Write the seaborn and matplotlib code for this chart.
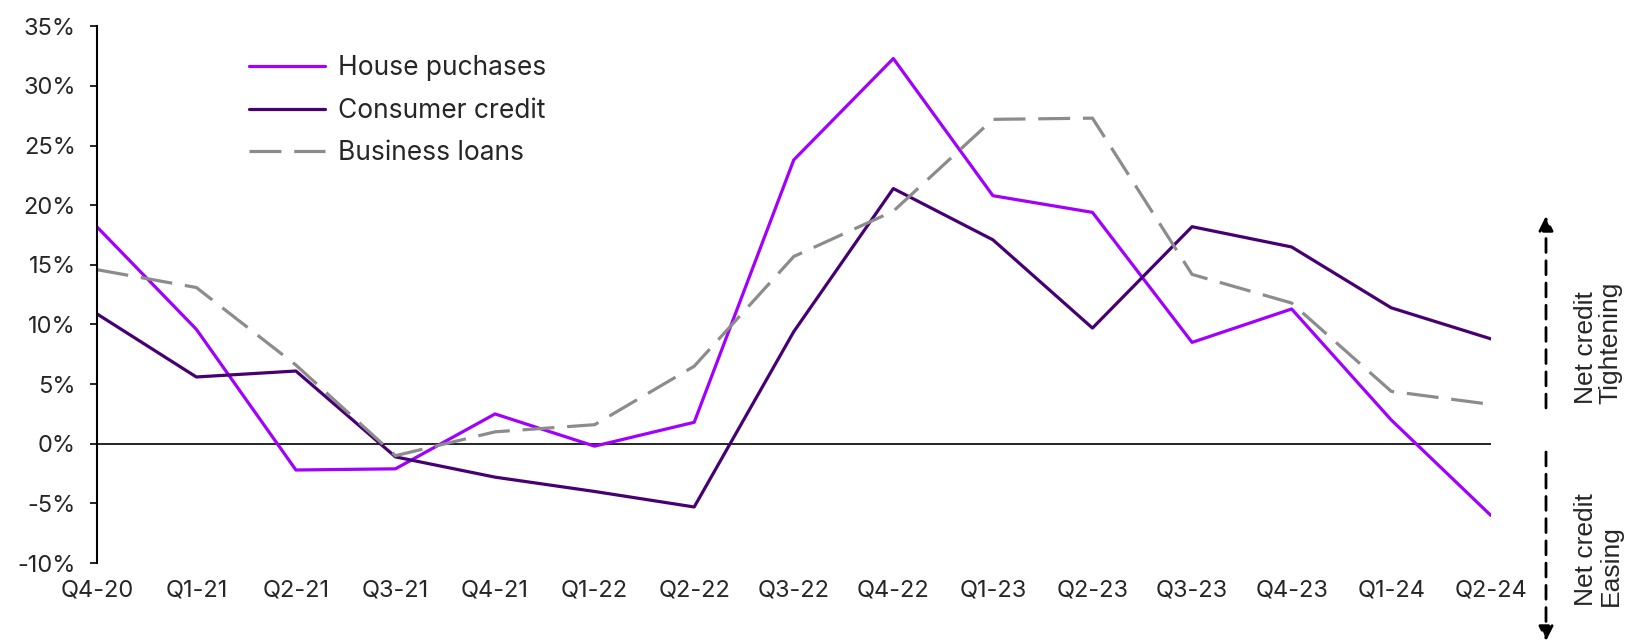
import matplotlib
matplotlib.use("Agg")
import matplotlib.pyplot as plt
from matplotlib.patches import FancyArrowPatch
import seaborn as sns
import pandas as pd
from matplotlib.ticker import FuncFormatter

quarters = ["Q4-20", "Q1-21", "Q2-21", "Q3-21", "Q4-21", "Q1-22", "Q2-22", "Q3-22",
            "Q4-22", "Q1-23", "Q2-23", "Q3-23", "Q4-23", "Q1-24", "Q2-24"]
house_purchases = [18.2, 9.6, -2.2, -2.1, 2.5, -0.2, 1.8, 23.8, 32.3, 20.8, 19.4, 8.5, 11.3, 2.0, -6.0]
consumer_credit = [10.9, 5.6, 6.1, -1.1, -2.8, -4.0, -5.3, 9.4, 21.4, 17.1, 9.7, 18.2, 16.5, 11.4, 8.8]
business_loans = [14.6, 13.1, 6.6, -1.0, 1.0, 1.6, 6.5, 15.7, 19.5, 27.2, 27.3, 14.2, 11.8, 4.4, 3.3]
series_names = ["House puchases", "Consumer credit", "Business loans"]

frames = []
for name, vals in zip(series_names, [house_purchases, consumer_credit, business_loans]):
    frames.append(pd.DataFrame({"idx": range(len(quarters)), "value": vals, "series": name}))
df = pd.concat(frames, ignore_index=True)

sns.set_style("white")
plt.rcParams["font.family"] = ["Inter", "DejaVu Sans"]

fig = plt.figure(figsize=(16.4, 6.42), dpi=100)
ax = fig.add_axes([0.059, 0.123, 0.85, 0.836])

palette = {"House puchases": "#A100FF", "Consumer credit": "#460073", "Business loans": "#8C8C8C"}
dashes = {"House puchases": "", "Consumer credit": "", "Business loans": (10, 4)}
sns.lineplot(data=df, x="idx", y="value", hue="series", style="series",
             palette=palette, dashes=dashes, hue_order=series_names, style_order=series_names,
             linewidth=2.3, ax=ax, legend=True)

ax.axhline(0, xmin=0, xmax=1, color="black", linewidth=1.2, zorder=1)

ax.set_xlim(0, 14)
ax.set_ylim(-10, 35)
ax.set_yticks(range(-10, 36, 5))
ax.yaxis.set_major_formatter(FuncFormatter(lambda v, p: f"{int(v)}%"))
ax.set_xticks(range(len(quarters)))
ax.set_xticklabels(quarters)
ax.set_xlabel("")
ax.set_ylabel("")

for s in ["top", "right", "bottom"]:
    ax.spines[s].set_visible(False)
ax.spines["left"].set_color("black")
ax.spines["left"].set_linewidth(1.5)
ax.tick_params(axis="y", which="major", direction="out", length=5, width=1.2,
               color="black", labelsize=17, pad=10, left=True)
ax.tick_params(axis="x", which="major", length=0, labelsize=17, pad=12)

handles, labels = ax.get_legend_handles_labels()
ax.legend(handles, labels, loc="upper left", bbox_to_anchor=(0.092, 0.99),
          frameon=False, handlelength=2.9, handletextpad=0.5, labelspacing=0.62,
          prop={"family": ["Inter", "DejaVu Sans"], "size": 19})

# Direction arrows and labels in the right margin
arrow_kw = dict(arrowstyle="-|>", color="black", linestyle=(0, (5, 3)), linewidth=2.0,
                mutation_scale=22, shrinkA=0, shrinkB=0)
x_arrow = 1546 / 1640
fig.patches.append(FancyArrowPatch((x_arrow, 1 - 408 / 642), (x_arrow, 1 - 216 / 642),
                                   transform=fig.transFigure, **arrow_kw))
fig.patches.append(FancyArrowPatch((x_arrow, 1 - 452 / 642), (x_arrow, 1 - 641 / 642),
                                   transform=fig.transFigure, **arrow_kw))
side_font = dict(rotation=90, ha="center", va="center", multialignment="left",
                 fontsize=19, family=["Liberation Sans", "DejaVu Sans"], linespacing=1.05)
fig.text(1598 / 1640, 1 - 343 / 642, "Net credit\nTightening", **side_font)
fig.text(1598 / 1640, 1 - 550 / 642, "Net credit\nEasing", **side_font)

fig.savefig("out.png", dpi=100)
